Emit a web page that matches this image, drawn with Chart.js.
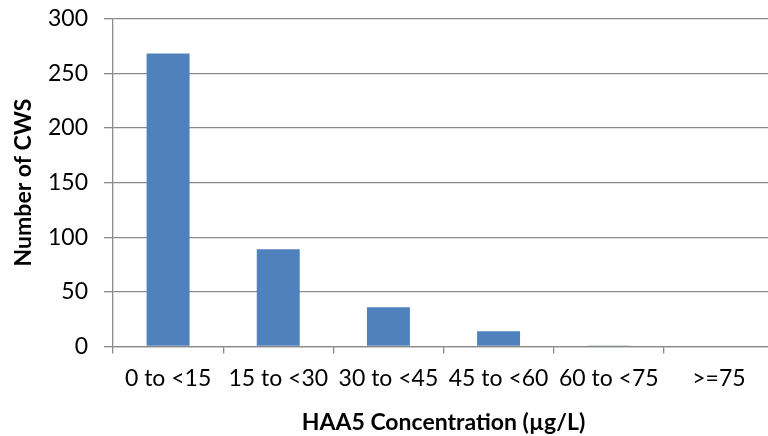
<!DOCTYPE html>
<html><head><meta charset="utf-8">
<script src="https://cdn.jsdelivr.net/npm/chart.js@4"></script>
<style>
html,body{margin:0;padding:0;overflow:hidden;background:#fff;width:768px;height:436px}
#wrap{width:774px;height:436px;position:relative}
</style></head><body>
<div id="wrap"><canvas id="c" width="774" height="436"></canvas></div>
<script>
const categories = ["0 to <15","15 to <30","30 to <45","45 to <60","60 to <75",">=75"];
const cwsCounts = [268, 89, 36, 14, 1, 0];
const yTicks = [0, 50, 100, 150, 200, 250, 300];
const xTitle = "HAA5 Concentration (µg/L)";
const yTitle = "Number of CWS";

const gridColor = '#8a8a8a';
new Chart(document.getElementById('c'), {
  type: 'bar',
  data: {
    labels: categories,
    datasets: [{
      data: cwsCounts,
      backgroundColor: '#4f81bd',
      borderWidth: 0,
      categoryPercentage: 1,
      barPercentage: 0.39
    }]
  },
  options: {
    responsive: false,
    animation: false,
    layout: { padding: 0 },
    plugins: { legend: { display: false }, tooltip: { enabled: false } },
    scales: {
      x: {
        offset: true,
        grid: { display: true, drawOnChartArea: false, drawTicks: true, tickLength: 7, color: gridColor, lineWidth: 1.3, offset: true },
        border: { display: true, color: gridColor, width: 1.3 },
        ticks: { color: '#000', font: { family: 'Lato', size: 23 }, padding: 11, maxRotation: 0, autoSkip: false },
        title: { display: true, text: xTitle, color: '#000', font: { family: 'Lato', size: 23, weight: 'bold' }, padding: { top: 6, bottom: 0 } },
        afterFit(s) { s.height = 89.5; s.paddingLeft = 0; s.paddingRight = 0; }
      },
      y: {
        min: 0, max: 300,
        afterBuildTicks(s) { s.ticks = yTicks.map(v => ({ value: v })); },
        grid: { color: gridColor, lineWidth: 1.3, drawTicks: true, tickLength: 9 },
        border: { display: true, color: gridColor, width: 1.3 },
        ticks: { color: '#000', font: { family: 'Lato', size: 23 }, padding: 16 },
        title: { display: true, text: yTitle, color: '#000', font: { family: 'Lato', size: 23, weight: 'bold' }, padding: { top: 10, bottom: 0 } },
        afterFit(s) { s.width = 113; s.paddingTop = 18.5; s.paddingBottom = 0; }
      }
    }
  }
});
</script>
</body></html>
